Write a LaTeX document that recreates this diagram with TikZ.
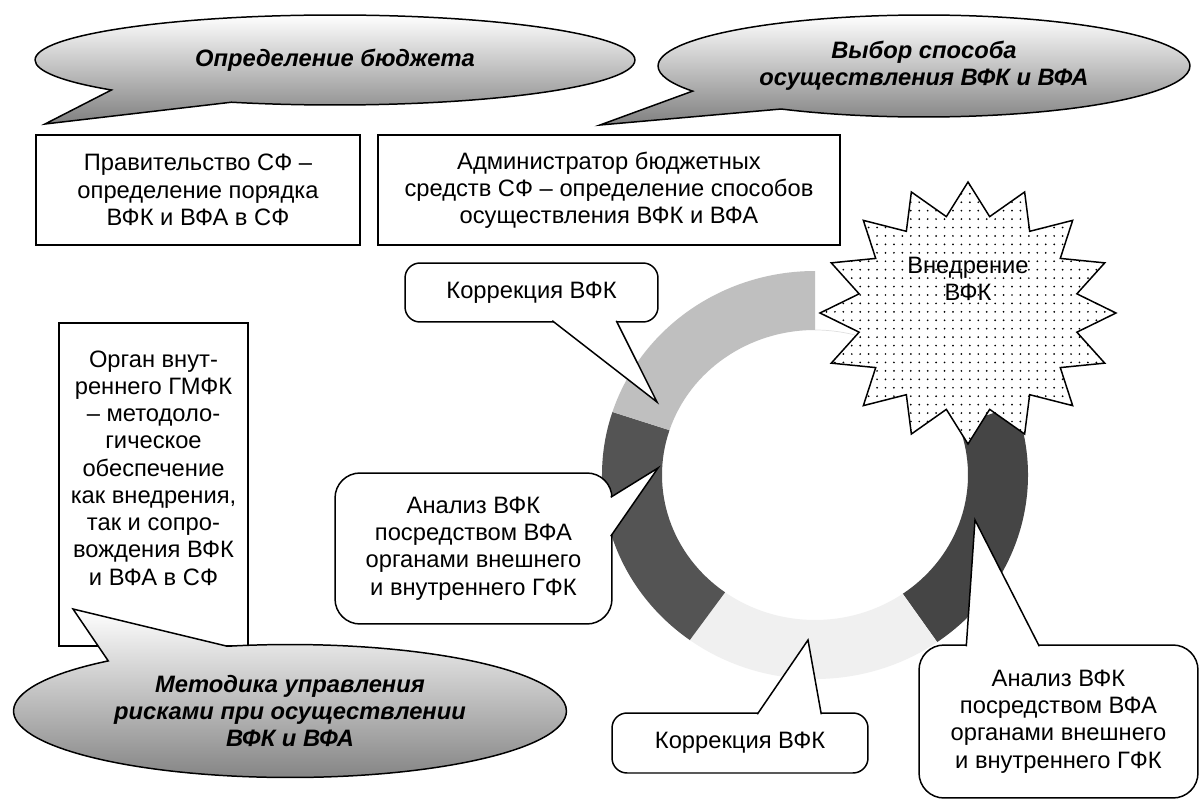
\documentclass[tikz,border=0pt]{standalone}
\usepackage{fontspec}
\setmainfont{Liberation Sans}
\usetikzlibrary{calc,shapes.callouts,patterns.meta}

\begin{document}
\begin{tikzpicture}[x=0.02cm,y=-0.02cm,
            every node/.style={align=center, font=\fontsize{13.5}{15.5}\selectfont},
            cloudnote/.style={ellipse callout, draw=black, line width=0.85pt, top color=white, bottom color=black!50,
            inner sep=0pt, callout pointer arc=28, font=\fontsize{13.5}{15.5}\selectfont\bfseries\itshape},
            plainbox/.style={draw=black, line width=0.85pt, fill=white, inner sep=0pt},
            talkbox/.style={draw=black, line width=0.85pt, fill=white, inner sep=0pt},
            talktail/.style={draw=black, line width=0.85pt, fill=white, line join=miter}]
            \fill[white] (0,0) rectangle (1201,801);
            \useasboundingbox (0,0) rectangle (1201,801);

            \coordinate (ring) at (815,475);
            \coordinate (burst) at (968,313);

            \begin{scope}[shift={(ring)}]
            \foreach \a/\b/\c in {-90/-20/white,-20/55/black!73,55/126/black!6,126/198/black!67,198/270/black!25}
                \fill[\c] (\a:213 and 204) arc[start angle=\a, end angle=\b, x radius=213, y radius=204]
                    -- (\b:153 and 145) arc[start angle=\b, end angle=\a, x radius=153, y radius=145] -- cycle;
            \draw[black!12, line width=0.4pt] (-90:153 and 145) arc[start angle=-90, end angle=-20, x radius=153, y radius=145];
            \end{scope}

            \begin{scope}[shift={(burst)}]
            \draw[line width=0.85pt, fill=white, line join=miter, postaction={pattern={Dots[distance=4.8pt,radius=0.55pt]}}]
                (-90:148 and 131)
                \foreach \i [evaluate=\i as \rx using {148-37*mod(\i,2)}, evaluate=\i as \ry using {131-32.75*mod(\i,2)}] in {1,...,31}
                { -- ({-90+11.25*\i}:{\rx} and {\ry}) } -- cycle;
            \end{scope}
            \node (intro) at (968,279) {Внедрение\\ВФК};

            \node[plainbox, minimum width=6.48cm, minimum height=2.2cm] (gov) at (198,190)
                {Правительство СФ –\\определение порядка\\ВФК и ВФА в СФ};
            \node[plainbox, minimum width=9.24cm, minimum height=2.2cm] (admin) at (609,190)
                {Администратор бюджетных\\средств СФ – определение способов\\осуществления ВФК и ВФА};
            \node[plainbox, minimum width=3.78cm, minimum height=6.46cm, text depth=19pt] (organ) at (153.5,484.5)
                {Орган внут-\\реннего ГМФК\\– методоло-\\гическое\\обеспечение\\как внедрения,\\так и сопро-\\вождения ВФК\\и ВФА в СФ};

            \coordinate (kortip1) at (657,402);
            \coordinate (antip1) at (658,468);
            \coordinate (kortip2) at (808,640);
            \coordinate (antip2) at (975,520);

            \node[talkbox, rounded corners=0.3cm, minimum width=5.06cm, minimum height=1.18cm] (kor1) at (531.5,292.5) {Коррекция ВФК};
            \draw[talktail] ($(kor1.south west)+(148,-2)$) -- (kortip1) -- ($(kor1.south west)+(212,-2)$);

            \node[talkbox, rounded corners=0.5cm, minimum width=5.54cm, minimum height=3.02cm] (an1) at (473.5,548.5)
                {Анализ ВФК\\посредством ВФА\\органами внешнего\\и внутреннего ГФК};
            \draw[talktail] ($(an1.north east)+(-2,25)$) -- (antip1) -- ($(an1.north east)+(-2,64)$);

            \node[talkbox, rounded corners=0.3cm, minimum width=5.12cm, minimum height=1.2cm] (kor2) at (740,743) {Коррекция ВФК};
            \draw[talktail] ($(kor2.north west)+(146,2)$) -- (kortip2) -- ($(kor2.north west)+(210,2)$);

            \node[talkbox, rounded corners=0.5cm, minimum width=5.58cm, minimum height=3.06cm] (an2) at (1058.5,721.5)
                {Анализ ВФК\\посредством ВФА\\органами внешнего\\и внутреннего ГФК};
            \draw[talktail] ($(an2.north west)+(48,2)$) -- (antip2) -- ($(an2.north west)+(121,2)$);

            \coordinate (budgettip) at (45,124);
            \coordinate (choicetip) at (600,125);
            \coordinate (methodtip) at (73,609);

            \node[cloudnote, minimum width=12cm, minimum height=1.8cm, callout absolute pointer={(budgettip)}] (budget) at (335,60)
                {Определение бюджета};
            \node[cloudnote, minimum width=10.64cm, minimum height=2.04cm, callout absolute pointer={(choicetip)}] (choice) at (924,66)
                {Выбор способа\\осуществления ВФК и ВФА};
            \node[cloudnote, minimum width=11.06cm, minimum height=2.66cm, callout absolute pointer={(methodtip)}] (method) at (290,711)
                {Методика управления\\рисками при осуществлении\\ВФК и ВФА};

        \end{tikzpicture}
\end{document}
